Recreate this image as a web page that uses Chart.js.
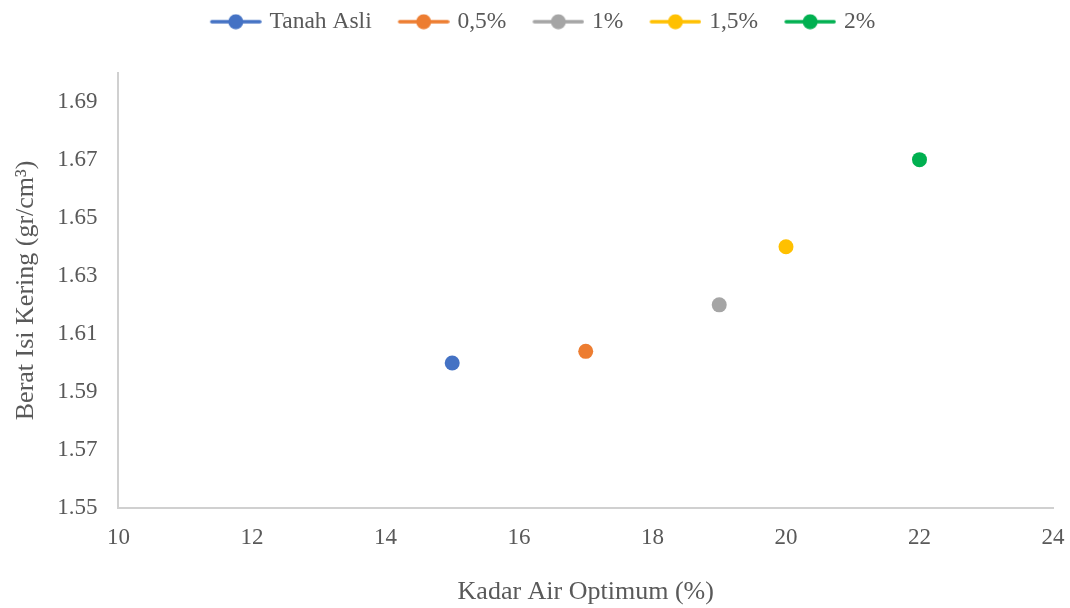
<!DOCTYPE html>
<html>
<head>
<meta charset="utf-8">
<script src="https://cdn.jsdelivr.net/npm/chart.js@4"></script>
<style>
  html, body { margin: 0; padding: 0; background: #fff; }
  #wrap { width: 1070px; height: 608px; }
</style>
</head>
<body>
<div id="wrap"><canvas id="myChart"></canvas></div>
<script>
// data
var seriesNames = ["Tanah Asli", "0,5%", "1%", "1,5%", "2%"];
var kadarAir = [15, 17, 19, 20, 22];
var beratIsi = [1.6, 1.604, 1.62, 1.64, 1.67];
var colors = ["#4472C4", "#ED7D31", "#A5A5A5", "#FFC000", "#00B050"];
var yTicks = [1.55, 1.57, 1.59, 1.61, 1.63, 1.65, 1.67, 1.69];

var fontFam = "'Liberation Serif', 'Times New Roman', serif";
var textColor = "#595959";

// legend symbol : line with a dot (blank on the left = gap between items)
function legendIcon(col) {
  var c = document.createElement("canvas");
  c.width = 80;
  c.height = 16;
  var g = c.getContext("2d");
  g.strokeStyle = col;
  g.lineWidth = 3.5;
  g.lineCap = "round";
  g.beginPath();
  g.moveTo(30, 8);
  g.lineTo(78, 8);
  g.stroke();
  g.fillStyle = col;
  g.beginPath();
  g.arc(54, 8, 7.5, 0, Math.PI * 2);
  g.fill();
  return c;
}
var icons = colors.map(legendIcon);

var datasets = [];
for (var i = 0; i < seriesNames.length; i++) {
  datasets.push({
    label: seriesNames[i],
    data: [{ x: kadarAir[i], y: beratIsi[i] }],
    backgroundColor: colors[i],
    borderColor: colors[i],
    pointRadius: 7.5,
    pointHoverRadius: 7.5,
    pointBorderWidth: 0,
  });
}

// more room between legend and plot, legend moved a bit left
var legendGap = {
  id: "legendGap",
  beforeInit: function (chart) {
    var fit = chart.legend.fit;
    chart.legend.fit = function () {
      fit.bind(chart.legend)();
      this.height += 29;
    };
  },
  afterLayout: function (chart) {
    chart.legend.left -= 10;
    chart.legend.right -= 10;
  },
};

var ctx = document.getElementById("myChart").getContext("2d");
new Chart(ctx, {
  type: "scatter",
  data: { datasets: datasets },
  plugins: [legendGap],
  options: {
    responsive: true,
    maintainAspectRatio: false,
    animation: false,
    layout: { padding: { top: 8, right: 0, bottom: 0, left: 11 } },
    plugins: {
      tooltip: { enabled: false },
      legend: {
        position: "top",
        labels: {
          usePointStyle: true,
          pointStyleWidth: 72,
          padding: 2,
          color: textColor,
          font: { family: fontFam, size: 23.5 },
          generateLabels: function (chart) {
            var items = Chart.defaults.plugins.legend.labels.generateLabels(chart);
            items.forEach(function (it, k) {
              it.pointStyle = icons[k];
            });
            return items;
          },
        },
      },
    },
    scales: {
      x: {
        type: "linear",
        min: 10,
        max: 24,
        afterFit: function (scale) {
          scale.paddingRight = 17;
        },
        ticks: {
          stepSize: 2,
          padding: 16,
          color: textColor,
          font: { family: fontFam, size: 23 },
        },
        grid: { display: false, drawTicks: false },
        border: { display: true, color: "#D0D0D0", width: 2 },
        title: {
          display: true,
          text: "Kadar Air Optimum (%)",
          color: textColor,
          font: { family: fontFam, size: 26 },
          padding: { top: 9, bottom: 0 },
        },
      },
      y: {
        type: "linear",
        min: 1.55,
        max: 1.7,
        afterBuildTicks: function (axis) {
          axis.ticks = yTicks.map(function (v) {
            return { value: v };
          });
        },
        ticks: {
          padding: 21,
          color: textColor,
          font: { family: fontFam, size: 23 },
          callback: function (v) {
            return v.toFixed(2);
          },
        },
        grid: { display: false, drawTicks: false },
        border: { display: true, color: "#D0D0D0", width: 2 },
        title: {
          display: true,
          text: "Berat Isi Kering (gr/cm\u00B3)",
          color: textColor,
          font: { family: fontFam, size: 26 },
          padding: { top: 0, bottom: -6 },
        },
      },
    },
  },
});
</script>
</body>
</html>
